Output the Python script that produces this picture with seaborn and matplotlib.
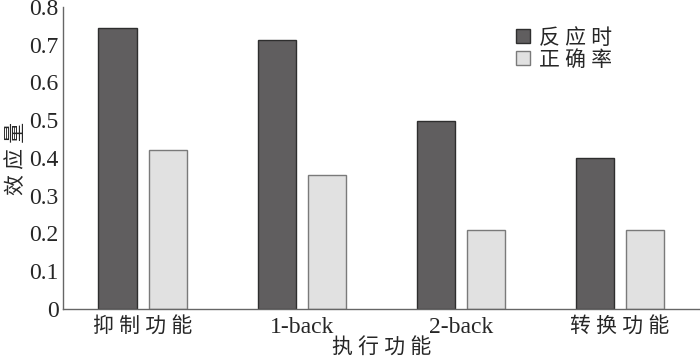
import matplotlib
matplotlib.use("Agg")
import matplotlib.pyplot as plt
import seaborn as sns
import pandas as pd
from matplotlib.ticker import FixedLocator
from matplotlib.patches import Patch

categories = ["抑制功能", "1-back", "2-back", "转换功能"]
tick_labels = ["抑 制 功 能", "1-back", "2-back", "转 换 功 能"]
series_names = ["反应时", "正确率"]
rt_values = [0.744, 0.712, 0.498, 0.399]
acc_values = [0.420, 0.356, 0.208, 0.210]
y_ticks = [0, 0.1, 0.2, 0.3, 0.4, 0.5, 0.6, 0.7, 0.8]
y_tick_labels = ["0", "0.1", "0.2", "0.3", "0.4", "0.5", "0.6", "0.7", "0.8"]

df = pd.DataFrame({
    "cat": categories * 2,
    "series": [series_names[0]] * 4 + [series_names[1]] * 4,
    "value": rt_values + acc_values,
})

sns.set_style("white")
fam = ["Liberation Serif", "Noto Sans CJK SC"]
plt.rcParams["font.family"] = fam

fig = plt.figure(figsize=(7, 3.62), dpi=100)
ax = fig.add_axes([0.09, 0.1464, 0.909, 0.8343])

palette = {series_names[0]: "#605e5f", series_names[1]: "#e1e1e1"}
sns.barplot(data=df, x="cat", y="value", hue="series", order=categories,
            hue_order=series_names, palette=palette, width=0.63, gap=0.24,
            saturation=1, ax=ax, legend=False)

edge = {0: "#2e2e2e", 1: "#7a7a7a"}
for i, cont in enumerate(ax.containers):
    for p in cont:
        p.set_edgecolor(edge[i])
        p.set_linewidth(1.0)

ax.set_xlim(-0.5, 3.5)
ax.set_ylim(0, 0.8)
ax.set_yticks(y_ticks)
ax.set_yticklabels(y_tick_labels, fontsize=17, family=fam)
ax.set_xticks(range(4))
ax.set_xticklabels(tick_labels, fontsize=15, family=fam)
for lbl in ax.get_xticklabels():
    if "back" in lbl.get_text():
        lbl.set_fontsize(17)
ax.xaxis.set_minor_locator(FixedLocator([0.5, 1.5, 2.5, 3.5]))
ax.tick_params(axis="x", which="major", length=0, pad=6)
ax.tick_params(axis="x", which="minor", direction="in", length=5, color="#666666", width=1)
ax.tick_params(axis="y", which="major", direction="in", length=3, color="#666666", width=1, pad=3)

for s in ["top", "right"]:
    ax.spines[s].set_visible(False)
for s in ["left", "bottom"]:
    ax.spines[s].set_color("#666666")
    ax.spines[s].set_linewidth(1.0)

ax.set_xlabel("执 行 功 能", fontsize=15, family=fam, labelpad=0)
ax.set_ylabel("效 应 量", fontsize=15, family=fam, labelpad=2)

handles = [Patch(facecolor="#605e5f", edgecolor="#2e2e2e"),
           Patch(facecolor="#e1e1e1", edgecolor="#7a7a7a")]
ax.legend(handles, ["反 应 时", "正 确 率"], loc="upper left",
          bbox_to_anchor=(0.696, 0.962), frameon=False,
          handlelength=0.65, handleheight=0.65, handletextpad=0.45,
          labelspacing=0.08, borderpad=0, prop={"family": fam, "size": 15})

fig.savefig("out.png", dpi=100)
